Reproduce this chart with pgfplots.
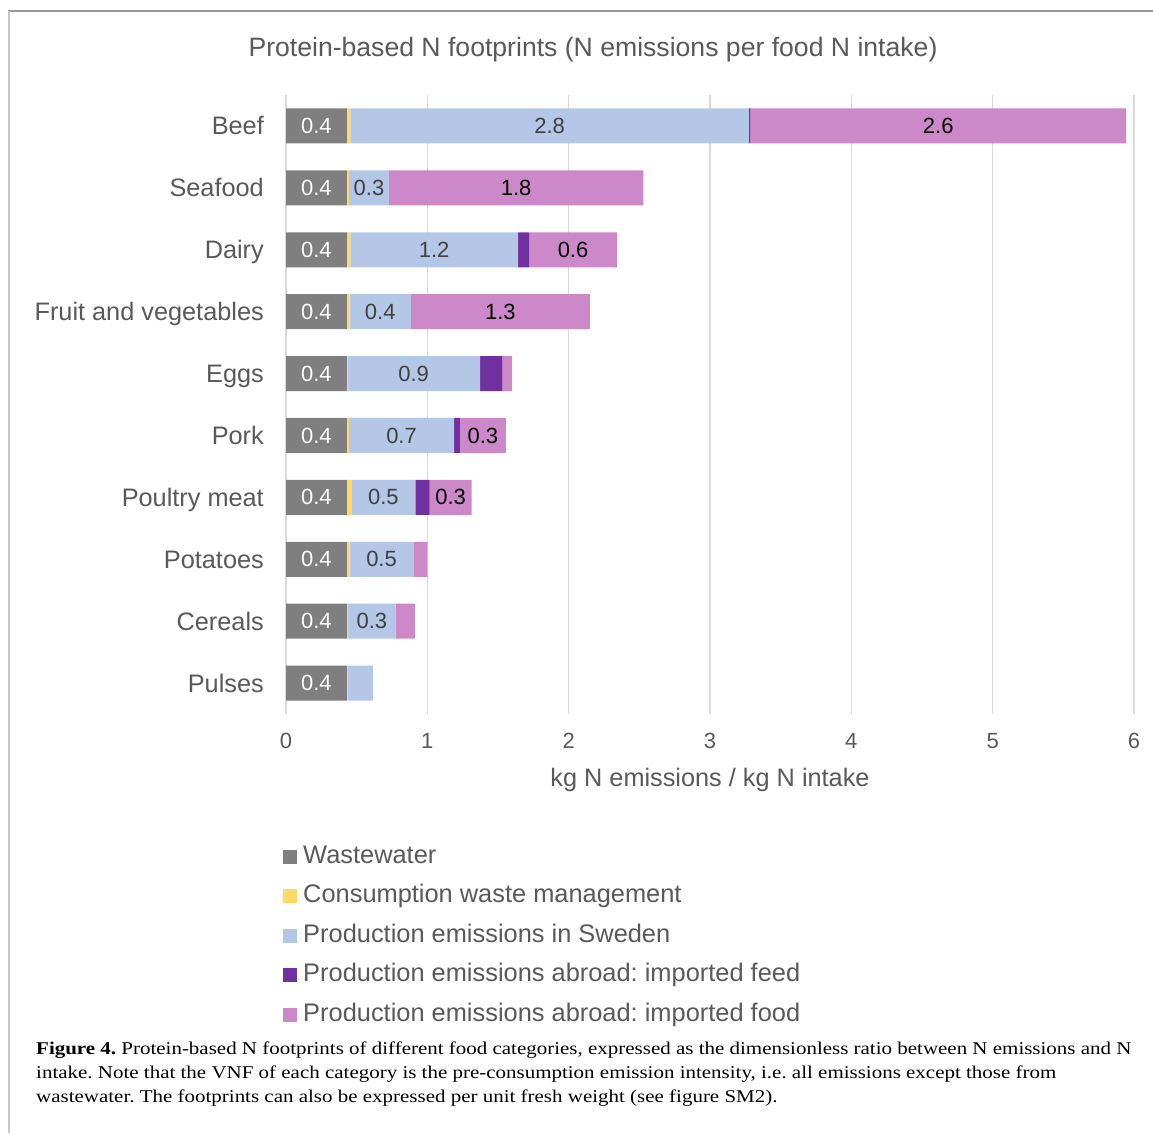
\documentclass[border=0pt]{standalone}
\usepackage{pgfplots}
\pgfplotsset{compat=1.18}
\usepackage{fontspec}
\setmainfont{Liberation Sans}
\newfontfamily\capfont[FakeStretch=1.165]{Liberation Serif}
\frenchspacing
\definecolor{cW}{HTML}{7F7F7F}
\definecolor{cC}{HTML}{FFD966}
\definecolor{cS}{HTML}{B4C7E7}
\definecolor{cF}{HTML}{7030A0}
\definecolor{cI}{HTML}{CC88C8}
\definecolor{tx}{HTML}{595959}
\definecolor{grd}{HTML}{D9D9D9}
\definecolor{lbS}{HTML}{404040}
\pgfplotsset{
  base/.style={
    at={(286pt,419pt)}, anchor=south west,
    scale only axis, width=848pt, height=619pt,
    xmin=0, xmax=6, ymin=-0.5, ymax=9.5, y dir=reverse,
  },
  sqleg/.style={legend image code/.code={\fill[##1] (0pt,-7pt) rectangle (14pt,7pt); \path (18pt,0pt);}},
}
\begin{document}
\begin{tikzpicture}[x=1pt,y=1pt]
\path[use as bounding box] (0,0) rectangle (1153,1133);
\draw[color=black!40, line width=1.2pt] (8,1122) -- (1153,1122);
\draw[color=black!22, line width=2pt] (9,1122) -- (9,0);
\node[anchor=base, text=tx, font=\fontsize{26.6}{31}\selectfont] at (593,1076) {Protein-based N footprints (N emissions per food N intake)};
\begin{axis}[base,
  xbar stacked, bar width=35pt,
  axis line style={draw=none},
  major tick length=0pt,
  xmajorgrids, grid style={color=grd, line width=1.6pt},
  xtick={0,1,2,3,4,5,6},
  ytick={0,1,2,3,4,5,6,7,8,9},
  yticklabels={Beef,Seafood,Dairy,Fruit and vegetables,Eggs,Pork,Poultry meat,Potatoes,Cereals,Pulses},
  yticklabel style={anchor=base east, inner sep=0pt, xshift=-22pt, yshift=-9pt, text=tx, font=\fontsize{25.3}{30}\selectfont},
  xticklabel style={anchor=north, inner sep=0pt, yshift=-19pt, text=tx, font=\fontsize{22}{26}\selectfont},
  /pgf/number format/assume math mode=true,
  xlabel={kg N emissions / kg N intake},
  xlabel style={at={(axis description cs:0.5,0)}, anchor=base, inner sep=0pt, yshift=-72pt, text=tx, font=\fontsize{25.3}{30}\selectfont},
  legend style={draw=none, fill=none, at={(axis description cs:-0.0035,-0.2084)}, anchor=north west,
    font=\fontsize{25.4}{30}\selectfont, text=tx, inner sep=0pt, row sep=12.5pt,
    nodes={inner sep=2pt, text height=18pt, text depth=5pt}},
  legend cell align=left,
]
\addplot[fill=cW, draw=none, sqleg] coordinates {
(0.43,0) (0.43,1) (0.43,2) (0.43,3) (0.43,4) (0.43,5) (0.43,6) (0.43,7) (0.43,8) (0.43,9)};
\addplot[fill=cC, draw=none, sqleg] coordinates {
(0.025,0) (0.015,1) (0.025,2) (0.02,3) (0.004,4) (0.015,5) (0.033,6) (0.02,7) (0.01,8) (0.004,9)};
\addplot[fill=cS, draw=none, sqleg] coordinates {
(2.82,0) (0.283,1) (1.187,2) (0.433,3) (0.94,4) (0.745,5) (0.452,6) (0.452,7) (0.335,8) (0.18,9)};
\addplot[fill=cF, draw=none, sqleg] coordinates {
(0.01,0) (0,1) (0.078,2) (0,3) (0.155,4) (0.04,5) (0.101,6) (0,7) (0,8) (0,9)};
\addplot[fill=cI, draw=none, sqleg] coordinates {
(2.66,0) (1.80,1) (0.622,2) (1.267,3) (0.071,4) (0.325,5) (0.297,6) (0.099,7) (0.137,8) (0,9)};
\legend{Wastewater,Consumption waste management,Production emissions in Sweden,Production emissions abroad: imported feed,Production emissions abroad: imported food}
\end{axis}
\begin{axis}[base, hide axis,
  every node near coord/.append style={anchor=center, inner sep=0pt, font=\fontsize{22}{26}\selectfont},
  /pgf/number format/assume math mode=true]
\addplot[draw=none, mark=none, nodes near coords, point meta=explicit symbolic,
  every node near coord/.append style={text=white}] coordinates {
(0.215,0) [0.4] (0.215,1) [0.4] (0.215,2) [0.4] (0.215,3) [0.4] (0.215,4) [0.4]
(0.215,5) [0.4] (0.215,6) [0.4] (0.215,7) [0.4] (0.215,8) [0.4] (0.215,9) [0.4]};
\addplot[draw=none, mark=none, nodes near coords, point meta=explicit symbolic,
  every node near coord/.append style={text=lbS}] coordinates {
(1.865,0) [2.8] (0.587,1) [0.3] (1.0485,2) [1.2] (0.6665,3) [0.4] (0.903,4) [0.9]
(0.8175,5) [0.7] (0.689,6) [0.5] (0.676,7) [0.5] (0.6075,8) [0.3]};
\addplot[draw=none, mark=none, nodes near coords, point meta=explicit symbolic,
  every node near coord/.append style={text=black}] coordinates {
(4.615,0) [2.6] (1.628,1) [1.8] (2.031,2) [0.6] (1.5165,3) [1.3]
(1.3925,5) [0.3] (1.1645,6) [0.3]};
\end{axis}
\begin{scope}[font=\capfont\fontsize{18}{24}\selectfont]
\node[anchor=base west, inner sep=0pt] at (36,1133-1054) {\textbf{Figure 4.} Protein-based N footprints of different food categories, expressed as the dimensionless ratio between N emissions and N};
\node[anchor=base west, inner sep=0pt] at (36,1133-1078.5) {intake. Note that the VNF of each category is the pre-consumption emission intensity, i.e. all emissions except those from};
\node[anchor=base west, inner sep=0pt] at (36,1133-1102.7) {wastewater. The footprints can also be expressed per unit fresh weight (see figure SM2).};
\end{scope}
\end{tikzpicture}
\end{document}
